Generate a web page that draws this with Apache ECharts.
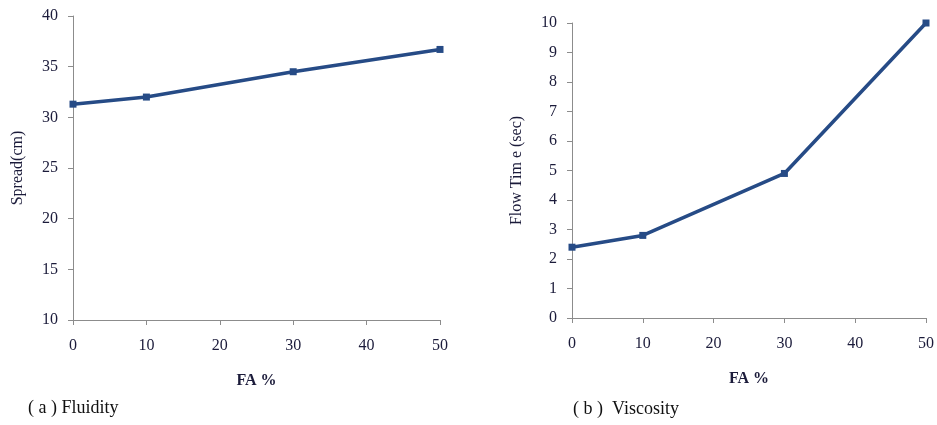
<!DOCTYPE html>
<html>
<head>
<meta charset="utf-8">
<script src="https://cdn.jsdelivr.net/npm/echarts@6/dist/echarts.min.js"></script>
<style>
  html, body { margin: 0; padding: 0; background: #fff; }
  #chart { width: 937px; height: 425px; }
</style>
</head>
<body>
<div id="chart"></div>
<script>
// FA replacement levels (%)
const faPercent = [0, 10, 30, 50];
// (a) Fluidity: slump-flow spread in cm
const spreadCm = [31.3, 32.0, 34.5, 36.7];
// (b) Viscosity: funnel flow time in seconds
const flowTimeSec = [2.4, 2.8, 4.9, 10.0];

const xTicks = { min: 0, max: 50, interval: 10 };
const spreadTicks = { min: 10, max: 40, interval: 5 };
const flowTicks = { min: 0, max: 10, interval: 1 };

const FONT = '"Liberation Serif", "DejaVu Serif", serif';
const LINE = '#264b86';
const AXIS = '#8c8c8c';
const TEXT = '#1b1b3a';

function pairs(xs, ys) { return xs.map((x, i) => [x, ys[i]]); }

function xAxisCfg(gridIndex) {
  return {
    type: 'value', gridIndex,
    min: xTicks.min, max: xTicks.max, interval: xTicks.interval,
    name: 'FA %', nameLocation: 'middle', nameGap: 53,
    nameTextStyle: { fontFamily: FONT, fontSize: 16, fontWeight: 'bold', color: TEXT },
    axisLine: { lineStyle: { color: AXIS, width: 1 } },
    axisTick: { show: true, length: 5, lineStyle: { color: AXIS } },
    axisLabel: { fontFamily: FONT, fontSize: 16, color: TEXT, margin: 18 },
    splitLine: { show: false }
  };
}

function yAxisCfg(gridIndex, ticks, name, gap) {
  return {
    type: 'value', gridIndex,
    min: ticks.min, max: ticks.max, interval: ticks.interval,
    name, nameLocation: 'middle', nameGap: gap, nameRotate: 90,
    nameTextStyle: { fontFamily: FONT, fontSize: 16, color: TEXT },
    axisLine: { show: true, lineStyle: { color: AXIS, width: 1 } },
    axisTick: { show: true, length: 5, lineStyle: { color: AXIS } },
    axisLabel: { fontFamily: FONT, fontSize: 16, color: TEXT, margin: 15 },
    splitLine: { show: false }
  };
}

function lineSeries(idx, data) {
  return {
    type: 'line', xAxisIndex: idx, yAxisIndex: idx,
    data,
    symbol: 'rect', symbolSize: 7,
    itemStyle: { color: LINE },
    lineStyle: { color: LINE, width: 3.5 },
    animation: false
  };
}

const chart = echarts.init(document.getElementById('chart'));
chart.setOption({
  backgroundColor: '#fff',
  grid: [
    { left: 73, right: 497, top: 16, bottom: 105 },
    { left: 572, right: 9, top: 23, bottom: 107 }
  ],
  xAxis: [xAxisCfg(0), xAxisCfg(1)],
  yAxis: [
    yAxisCfg(0, spreadTicks, 'Spread(cm)', 47),
    yAxisCfg(1, flowTicks, 'Flow Tim e (sec)', 47)
  ],
  series: [
    lineSeries(0, pairs(faPercent, spreadCm)),
    lineSeries(1, pairs(faPercent, flowTimeSec))
  ],
  graphic: [
    { type: 'text', left: 28, top: 399,
      style: { text: '( a ) Fluidity', font: '18px ' + FONT, fill: '#111' } },
    { type: 'text', left: 573, top: 400,
      style: { text: '( b )  Viscosity', font: '18px ' + FONT, fill: '#111' } }
  ]
});
</script>
</body>
</html>
